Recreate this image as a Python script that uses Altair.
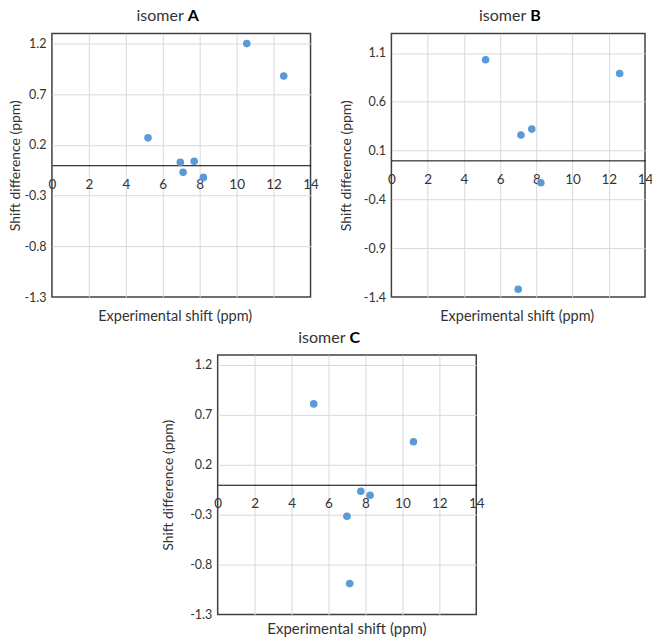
import altair as alt
import pandas as pd

# ---- data ----
A_x = [5.2, 10.55, 12.55, 6.95, 7.7, 7.1, 8.2]
A_y = [0.27, 1.2, 0.88, 0.03, 0.04, -0.07, -0.12]

B_x = [5.2, 12.6, 7.15, 7.75, 8.25, 7.0]
B_y = [1.03, 0.89, 0.26, 0.32, -0.23, -1.32]

C_x = [5.2, 10.6, 7.75, 8.25, 7.0, 7.15]
C_y = [0.81, 0.43, -0.065, -0.105, -0.315, -0.99]

x_ticks = [0, 2, 4, 6, 8, 10, 12, 14]
A_yticks = [-1.3, -0.8, -0.3, 0.2, 0.7, 1.2]
B_yticks = [-1.4, -0.9, -0.4, 0.1, 0.6, 1.1]
C_yticks = [-1.3, -0.8, -0.3, 0.2, 0.7, 1.2]

FONT = "Lato"
TXT = "#333333"
GRID = "#d9d9d9"
BLUE = "#5B9BD5"


def panel(xs, ys, yticks, ydom, letter, w, h, title_pad, tx, lx,
          xt_size, xt_offset, xt_dx):
    df = pd.DataFrame({"shift": xs, "diff": ys})
    ymin, ymax = ydom
    zero_off = -h * (ymax - 0) / (ymax - ymin)  # move x axis to y = 0
    x_axis = alt.Axis(
        values=x_ticks, title=None, grid=True, gridColor=GRID, gridWidth=1,
        gridOpacity={"condition": {"test": "datum.value == 0 || datum.value == 14", "value": 0}, "value": 1},
        domainColor="#000000", domainWidth=1, ticks=False, tickSize=0,
        labelPadding=12, labelFlush=False, labelOverlap=False,
        labelFontSize=13.5, labelFont=FONT, labelColor=TXT,
        offset=-(h + zero_off),
    )
    y_axis = alt.Axis(
        values=yticks, title="Shift difference (ppm)", titleFont=FONT,
        titleFontSize=14, titleFontWeight="normal", titleColor=TXT,
        titlePadding=title_pad, minExtent=27, maxExtent=27,
        labelPadding=6, ticks=False, tickSize=0, domain=False,
        grid=True, gridColor=GRID, gridWidth=1,
        gridOpacity={"condition": {"test": f"datum.value <= {ymin + 0.001}", "value": 0}, "value": 1},
        labelExpr="toString(datum.value)", labelFontSize=12.5, labelFont=FONT,
        labelColor=TXT,
    )
    pts = alt.Chart(df).mark_circle(size=58, color=BLUE, opacity=1).encode(
        x=alt.X("shift:Q", scale=alt.Scale(domain=[0, 14], nice=False, zero=False), axis=x_axis),
        y=alt.Y("diff:Q", scale=alt.Scale(domain=list(ydom), nice=False, zero=False), axis=y_axis),
    )
    tdf = pd.DataFrame({"t": ["isomer"], "l": [letter]})
    t1 = alt.Chart(tdf).mark_text(font=FONT, fontSize=16, color=TXT, align="right",
                                  baseline="middle").encode(
        x=alt.value(tx), y=alt.value(-17), text="t:N")
    t2 = alt.Chart(tdf).mark_text(font=FONT, fontSize=16, fontWeight="bold", color="#000000",
                                  align="left", baseline="middle").encode(
        x=alt.value(lx), y=alt.value(-17), text="l:N")
    return alt.layer(pts, t1, t2).properties(
        width=w, height=h,
        title=alt.TitleParams(text="Experimental shift (ppm)", orient="bottom",
                              font=FONT, fontSize=xt_size, fontWeight="normal",
                              color=TXT, offset=xt_offset, dx=xt_dx, anchor="middle"),
    )


pA = panel(A_x, A_y, A_yticks, (-1.3, 1.3), "A", 259, 264, 2, 132, 136, 14.5, 6, -6)
pB = panel(B_x, B_y, B_yticks, (-1.4, 1.3), "B", 254, 264, 11, 135, 139, 14.5, 6, -1)
pC = panel(C_x, C_y, C_yticks, (-1.3, 1.3), "C", 259, 260, 15, 128, 132, 15, 1, 0)

spacer = alt.Chart(pd.DataFrame({"s": [0]})).mark_point(opacity=0).encode(
    x=alt.value(0), y=alt.value(0)
).properties(width=108, height=10, view=alt.ViewBackground(stroke="transparent"))

row1 = alt.hconcat(pA, pB, spacing=19)
row2 = alt.hconcat(spacer, pC, spacing=0)

chart = alt.vconcat(row1, row2, spacing=5).properties(
    padding={"left": 0, "top": -1, "right": -2, "bottom": 0},
    background="white",
).configure_view(stroke="#404040", strokeWidth=1.5)

chart.save("out.html", embed_options={"renderer": "svg", "actions": False})
